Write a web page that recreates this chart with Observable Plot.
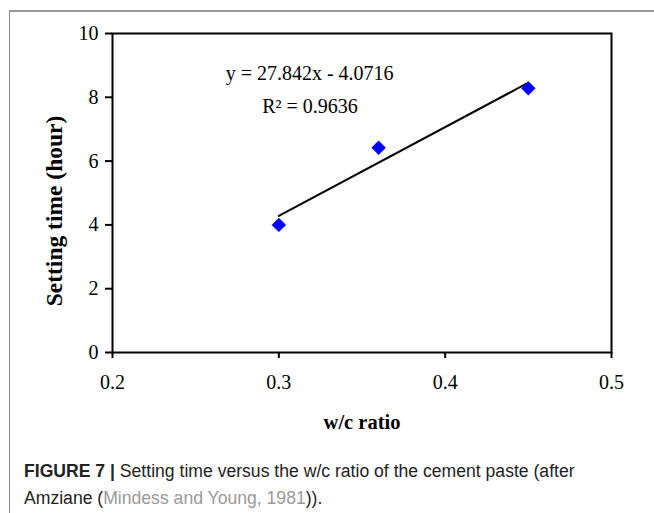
<!DOCTYPE html>
<html>
<head>
<meta charset="utf-8">
<script src="https://cdn.jsdelivr.net/npm/d3@7"></script>
<script src="https://cdn.jsdelivr.net/npm/@observablehq/plot@0.6"></script>
<style>
  html, body { margin: 0; padding: 0; background: #fff; }
  #wrap { position: relative; width: 654px; height: 513px; overflow: hidden; }
  #border { position: absolute; left: 9px; top: 10px; width: 700px; height: 600px;
            border-left: 1px solid #8a8a8a; border-top: 2px solid #9a9a9a; }
  #chart { position: absolute; left: 0; top: 0; }
  #caption { position: absolute; left: 24px; top: 458px; width: 625px;
             font-family: "Liberation Sans", Arial, sans-serif; font-size: 17.6px;
             line-height: 27px; color: #222; white-space: nowrap; }
  #caption b { font-weight: bold; }
  #caption .ref { color: #9a9a9a; }
</style>
</head>
<body>
<div id="wrap">
  <div id="border"></div>
  <div id="chart"></div>
  <div id="caption"><b>FIGURE 7 |</b> Setting time versus the w/c ratio of the cement paste (after<br>Amziane (<span class="ref">Mindess and Young, 1981</span>)).</div>
</div>
<script>
// Data
const wcRatio = [0.30, 0.36, 0.45];
const settingTime = [4.0, 6.42, 8.28];
const xTicks = [0.2, 0.3, 0.4, 0.5];
const yTicks = [0, 2, 4, 6, 8, 10];
const trendSlope = 27.842;
const trendIntercept = -4.0716;
const equationLabel = "y = 27.842x - 4.0716";
const r2Label = "R² = 0.9636";

const points = wcRatio.map((x, i) => ({x, y: settingTime[i]}));
const xMin = d3.min(wcRatio), xMax = d3.max(wcRatio);
const trend = [xMin, xMax].map(x => ({x, y: trendSlope * x + trendIntercept}));

const serif = "'Liberation Serif', 'Times New Roman', serif";

const chart = Plot.plot({
  width: 654,
  height: 440,
  marginLeft: 112,
  marginRight: 43,
  marginTop: 33,
  marginBottom: 88,
  style: {fontFamily: serif, fontSize: "20px", color: "#000", background: "transparent"},
  x: {domain: [0.2, 0.5], ticks: xTicks, tickFormat: d3.format(".1f")},
  y: {domain: [0, 10], ticks: yTicks},
  marks: [
    Plot.frame({stroke: "#000", strokeWidth: 2}),
    Plot.axisX({ticks: xTicks, tickFormat: d3.format(".1f"), tickSize: 6, tickPadding: 16, strokeWidth: 2, fontSize: 20, label: null}),
    Plot.axisY({ticks: yTicks, tickSize: 7, tickPadding: 7, strokeWidth: 2, fontSize: 20, label: null}),
    Plot.text(["w/c ratio"], {frameAnchor: "bottom", dy: 76, fontWeight: "bold", fontSize: 20.5}),
    Plot.text(["Setting time (hour)"], {frameAnchor: "left", textAnchor: "middle", dx: -58, dy: 18, rotate: -90, fontWeight: "bold", fontSize: 23.5}),
    Plot.line(trend, {x: "x", y: "y", stroke: "#000", strokeWidth: 2}),
    Plot.dot(points, {x: "x", y: "y", symbol: "diamond2", r: 6.5, fill: "#0000ff", stroke: null}),
    Plot.text([equationLabel], {x: 0.3185, y: 8.75, fontSize: 20, textAnchor: "middle"}),
    Plot.text([r2Label], {x: 0.3187, y: 7.72, fontSize: 20, textAnchor: "middle"})
  ]
});
document.getElementById("chart").appendChild(chart);
</script>
</body>
</html>
